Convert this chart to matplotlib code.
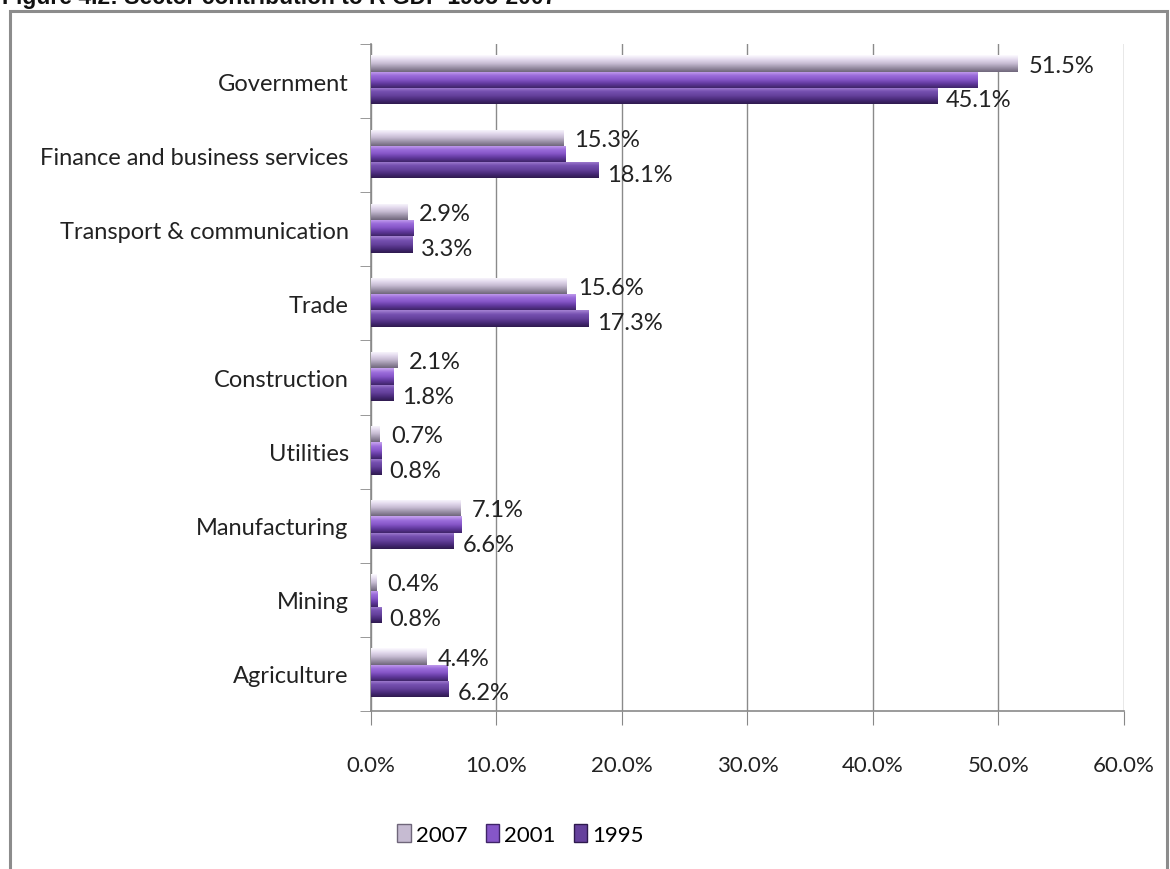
import numpy as np
import matplotlib
matplotlib.use("Agg")
import matplotlib.pyplot as plt
from matplotlib.colors import LinearSegmentedColormap
from matplotlib.patches import Rectangle, Patch


SECTORS = [
    "Agriculture", "Mining", "Manufacturing", "Utilities", "Construction",
    "Trade", "Transport & communication", "Finance and business services",
    "Government",
]

YEARS = ["2007", "2001", "1995"]

SHARE_2007 = [4.4, 0.4, 7.1, 0.7, 2.1, 15.6, 2.9, 15.3, 51.5]
SHARE_2001 = [6.1, 0.5, 7.2, 0.8, 1.8, 16.3, 3.4, 15.5, 48.3]
SHARE_1995 = [6.2, 0.8, 6.6, 0.8, 1.8, 17.3, 3.3, 18.1, 45.1]

X_TICKS = [0, 10, 20, 30, 40, 50, 60]

# top -> bottom shading of each bar
SHADES = {
    "2007": ["#fdfbff", "#e4dbee", "#c6bbd2", "#9a90a6", "#6f667a"],
    "2001": ["#c9a6f0", "#9c6ddb", "#8656c8", "#60389c", "#3f2468"],
    "1995": ["#a684d4", "#7550b0", "#65419c", "#482a78", "#2e1a4e"],
}

FONT = ["Lato", "DejaVu Sans"]

fig = plt.figure(figsize=(11.7, 8.7), dpi=100)
ax = fig.add_axes([0.317, 0.1816, 0.6437, 0.7667])

# outer frame and caption (the top of it is cut off in the original)
fig.patches.append(Rectangle((10 / 1170, -0.05), 1157 / 1170, 1.0 - 12 / 870 + 0.05,
                             transform=fig.transFigure, fill=False,
                             edgecolor="#8c8c8c", linewidth=2.2, zorder=0))
fig.text(0.002, 1.003, "Figure 4.2: Sector contribution to R GDP 1995-2007",
         fontsize=16.5, fontweight="bold", family=["Liberation Sans", "DejaVu Sans"],
         va="center", ha="left", color="#111111")

y = np.arange(len(SECTORS))
h = 0.22
offsets = {"2007": 0.235, "2001": 0.015, "1995": -0.205}
series = {"2007": SHARE_2007, "2001": SHARE_2001, "1995": SHARE_1995}

grad = np.linspace(0, 1, 64).reshape(-1, 1)
for yr in YEARS:
    cmap = LinearSegmentedColormap.from_list(yr, SHADES[yr])
    bars = ax.barh(y + offsets[yr], series[yr], height=h, color=SHADES[yr][2],
                   edgecolor="none", zorder=3)
    for b in bars:
        x0, y0 = b.get_x(), b.get_y()
        w, hh = b.get_width(), b.get_height()
        im = ax.imshow(grad, cmap=cmap, extent=(x0, x0 + w, y0, y0 + hh),
                       aspect="auto", origin="upper", zorder=4,
                       interpolation="bicubic")
        im.set_clip_path(b)

# data labels for 2007 and 1995
for i, v in enumerate(SHARE_2007):
    ax.text(v + 0.9, y[i] + offsets["2007"] - 0.02, f"{v:.1f}%", fontsize=17,
            family=FONT, color="#222222", va="center", ha="left", zorder=6)
for i, v in enumerate(SHARE_1995):
    ax.text(v + 0.7, y[i] + offsets["1995"] - 0.05, f"{v:.1f}%", fontsize=17,
            family=FONT, color="#222222", va="center", ha="left", zorder=6)

ax.set_xlim(0, 60)
ax.set_ylim(-0.5, len(SECTORS) - 0.5)
ax.set_xticks(X_TICKS)
ax.set_xticklabels([f"{t:.1f}%" for t in X_TICKS], fontsize=16, family=FONT,
                   color="#222222")
ax.set_yticks(y)
ax.set_yticklabels(SECTORS, fontsize=17, family=FONT, color="#222222")
ax.set_yticks(np.arange(-0.5, len(SECTORS)), minor=True)

ax.tick_params(axis="y", which="major", length=0, pad=16)
ax.tick_params(axis="y", which="minor", length=8, color="#888888", direction="out")
ax.tick_params(axis="x", which="major", length=10, color="#888888",
               direction="out", pad=22)

ax.grid(axis="x", color="#8a8a8a", linewidth=1.0, zorder=0)
ax.set_axisbelow(True)
for s in ["top", "right"]:
    ax.spines[s].set_visible(False)
for s in ["left", "bottom"]:
    ax.spines[s].set_color("#8a8a8a")
    ax.spines[s].set_linewidth(1.2)

handles = [Patch(facecolor=SHADES[yr][2], edgecolor=SHADES[yr][4], label=yr)
           for yr in YEARS]
fig.legend(handles=handles, loc="center", bbox_to_anchor=(0.445, 0.04), ncol=3,
           frameon=False, prop={"family": FONT, "size": 16}, handlelength=0.6,
           handleheight=0.9, handletextpad=0.25, columnspacing=0.8)

fig.savefig("out.png", dpi=100, facecolor="white")
